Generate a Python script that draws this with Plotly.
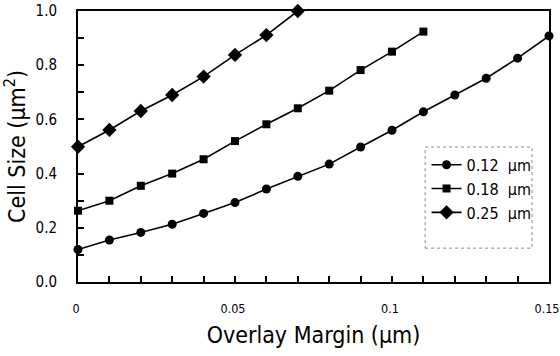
import plotly.graph_objects as go

margin_x = [0, 0.01, 0.02, 0.03, 0.04, 0.05, 0.06, 0.07, 0.08, 0.09, 0.10, 0.11, 0.12, 0.13, 0.14, 0.15]
size_012 = [0.12, 0.155, 0.183, 0.213, 0.253, 0.293, 0.343, 0.39, 0.435, 0.498, 0.56, 0.628, 0.69, 0.752, 0.826, 0.908]
size_018 = [0.263, 0.30, 0.355, 0.40, 0.453, 0.52, 0.582, 0.641, 0.706, 0.782, 0.85, 0.924]
size_025 = [0.499, 0.561, 0.631, 0.69, 0.758, 0.838, 0.911, 1.0]
series_names = ["0.12  μm", "0.18  μm", "0.25  μm"]

FONT = "DejaVu Sans Condensed, Liberation Sans Narrow, Arial Narrow, DejaVu Sans"

fig = go.Figure()
for name, ys, sym, sz in [
    (series_names[0], size_012, "circle", 9),
    (series_names[1], size_018, "square", 8),
    (series_names[2], size_025, "diamond", 11),
]:
    fig.add_trace(go.Scatter(
        x=margin_x[:len(ys)], y=ys, name=name, mode="lines+markers",
        line=dict(color="black", width=1.6),
        marker=dict(symbol=sym, size=sz, color="black"),
        cliponaxis=False,
    ))

fig.update_layout(
    width=560, height=356,
    margin=dict(l=78, r=11, t=11, b=74),
    paper_bgcolor="white", plot_bgcolor="white",
    font=dict(family=FONT, color="black"),
    showlegend=True,
    legend=dict(x=0.74, y=0.495, xanchor="left", yanchor="top",
                bgcolor="rgba(0,0,0,0)", borderwidth=0,
                font=dict(size=16, family=FONT), itemwidth=30,
                tracegroupgap=0),
    xaxis=dict(range=[0, 0.15], dtick=0.05, tick0=0, showgrid=False, zeroline=False,
               automargin=False, ticklabeloverflow="allow", ticklabelshift=-2,
               showline=True, linecolor="black", linewidth=2, mirror=True,
               ticks="inside", ticklen=6, tickcolor="black", tickwidth=1.5,
               minor=dict(dtick=0.01, ticks="inside", ticklen=6, tickcolor="black", tickwidth=1.5),
               tickfont=dict(size=12.5, family=FONT), ticklabelstandoff=14,
               title=dict(text="Overlay Margin (μm)", font=dict(size=23, family=FONT), standoff=12)),
    yaxis=dict(range=[0, 1.0], dtick=0.2, tick0=0, tickformat=".1f", showgrid=False, zeroline=False,
               automargin=False, ticklabeloverflow="allow",
               showline=True, linecolor="black", linewidth=2, mirror=True,
               ticks="inside", ticklen=6, tickcolor="black", tickwidth=1.5,
               minor=dict(dtick=0.1, ticks="inside", ticklen=6, tickcolor="black", tickwidth=1.5),
               tickfont=dict(size=15, family=FONT), ticklabelstandoff=16,
               title=dict(text="Cell Size (μm<sup>2</sup>)", font=dict(size=23, family=FONT), standoff=11)),
)

fig.add_shape(type="rect", xref="paper", yref="paper",
              x0=0.737, x1=0.964, y0=0.125, y1=0.498,
              line=dict(color="#888", width=1, dash="dot"), fillcolor="rgba(0,0,0,0)")

fig.write_html("out.html", config={"displayModeBar": False},
               post_script="document.body.style.margin='0px';document.body.style.padding='0px';")
